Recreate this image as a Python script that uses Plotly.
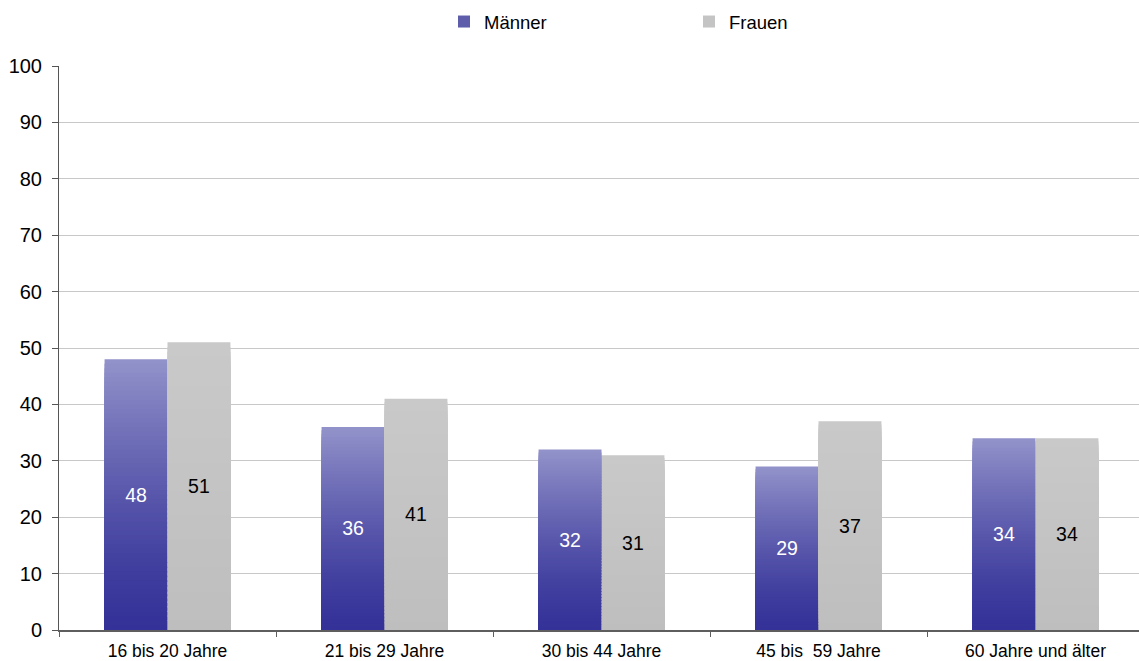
import plotly.graph_objects as go

categories = ["16 bis 20 Jahre", "21 bis 29 Jahre", "30 bis 44 Jahre", "45 bis\u00a0 59 Jahre", "60 Jahre und älter"]
maenner = [48, 36, 32, 29, 34]
frauen = [51, 41, 31, 37, 34]

N = 60


def mix(c0, c1, t):
    return "rgb(%d,%d,%d)" % tuple(round(a + (b - a) * t) for a, b in zip(c0, c1))


m_bottom, m_top = (52, 50, 152), (146, 146, 202)
f_bottom, f_top = (190, 190, 190), (201, 201, 201)

fig = go.Figure()

# legend proxies
fig.add_trace(go.Bar(x=categories, y=[None] * 5, offsetgroup="m", name="Männer",
                     marker=dict(color="#5d5dab", line_width=0)))
fig.add_trace(go.Bar(x=categories, y=[None] * 5, offsetgroup="f", name="Frauen",
                     marker=dict(color="#c4c4c4", line_width=0)))

# gradient layers (drawn from full height down, darker shorter layers on top)
for i in range(N):
    frac = (N - i) / N
    fig.add_trace(go.Bar(x=categories, y=[v * frac for v in maenner], offsetgroup="m",
                         marker=dict(color=mix(m_bottom, m_top, frac ** 1.4), line_width=0),
                         showlegend=False, hoverinfo="skip"))
    fig.add_trace(go.Bar(x=categories, y=[v * frac for v in frauen], offsetgroup="f",
                         marker=dict(color=mix(f_bottom, f_top, frac), line_width=0),
                         showlegend=False, hoverinfo="skip"))

# value labels
fig.add_trace(go.Bar(x=categories, y=maenner, offsetgroup="m", text=maenner,
                     textposition="inside", insidetextanchor="middle",
                     textfont=dict(color="white", size=19.5, family="Liberation Sans"),
                     marker=dict(color="rgba(0,0,0,0)", line_width=0),
                     showlegend=False, hoverinfo="skip"))
fig.add_trace(go.Bar(x=categories, y=frauen, offsetgroup="f", text=frauen,
                     textposition="inside", insidetextanchor="middle",
                     textfont=dict(color="black", size=19.5, family="Liberation Sans"),
                     marker=dict(color="rgba(0,0,0,0)", line_width=0),
                     showlegend=False, hoverinfo="skip"))

fig.update_layout(
    width=1139, height=661,
    margin=dict(l=59, r=0, t=66, b=31),
    paper_bgcolor="white", plot_bgcolor="white",
    barmode="group", bargap=0.42, bargroupgap=0,
    font=dict(family="Liberation Sans", color="black", size=18),
    hovermode=False,
    showlegend=True,
    legend=dict(orientation="h", x=444 / 1139, xanchor="left", y=1 - 3 / 661, yanchor="top",
                xref="container", yref="container", entrywidth=200,
                font=dict(size=18.5), itemwidth=30, traceorder="normal"),
    xaxis=dict(range=[-0.5, -0.5 + 1080 / 217], showline=True, linecolor="#5e5e5e", linewidth=2,
               ticks="outside", tickson="boundaries", ticklen=5, tickcolor="#5e5e5e",
               tickfont=dict(size=17.5), ticklabelstandoff=4,
               showgrid=False, zeroline=False, fixedrange=True),
    yaxis=dict(range=[0, 100], dtick=10, showline=True, linecolor="#555555", linewidth=1,
               ticks="outside", ticklen=6, tickcolor="#555555", tickfont=dict(size=20),
               ticklabelstandoff=6,
               showgrid=True, gridcolor="#c8c8c8", gridwidth=1, zeroline=False, fixedrange=True),
)

fig.write_html("out.html")
